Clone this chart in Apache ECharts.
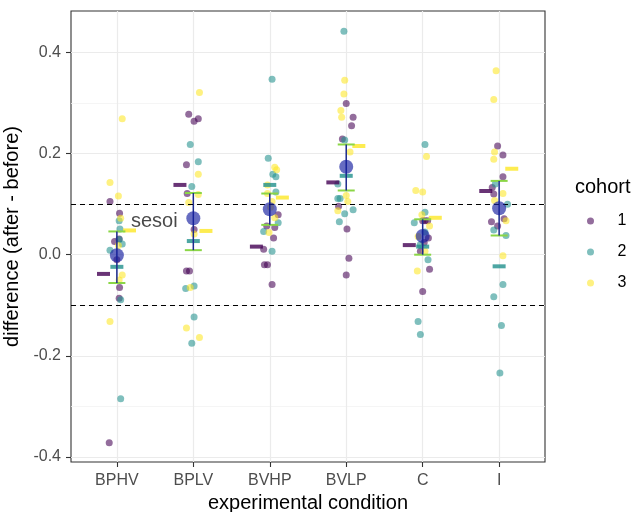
<!DOCTYPE html>
<html>
<head>
<meta charset="utf-8">
<script src="https://cdn.jsdelivr.net/npm/echarts@6/dist/echarts.min.js"></script>
<style>html,body{margin:0;padding:0;background:#fff}#chart{width:633px;height:512px}</style>
</head>
<body>
<div id="chart"></div>
<script>
const categories = ['BPHV', 'BPLV', 'BVHP', 'BVLP', 'C', 'I'];
const cohortNames = ['1', '2', '3'];
const yTicks = [-0.4, -0.2, 0.0, 0.2, 0.4];
const sesoi = 0.1;
const sesoiLabel = { x: 0.49, y: 0.065, text: 'sesoi' };

// [category index, jitter (category units), difference]
const cohort1Points = [
  [0,-0.09,0.105],[0,0.035,0.082],[0,0.03,0.031],[0,-0.03,0.026],[0,0,-0.010],[0,0.035,-0.065],[0,0.03,-0.086],[0,-0.1,-0.372],
  [1,-0.06,0.278],[1,0.01,0.264],[1,0.065,0.269],[1,-0.09,0.178],[1,-0.08,0.121],[1,0.01,0.050],[1,-0.09,-0.032],[1,-0.05,-0.032],
  [2,0.11,0.079],[2,-0.04,0.057],[2,0.065,0.054],[2,0.05,0.033],[2,-0.08,0.011],[2,-0.07,-0.020],[2,-0.03,-0.020],[2,0.03,-0.059],
  [3,0,0.299],[3,0.09,0.272],[3,0.07,0.255],[3,-0.05,0.229],[3,-0.1,0.096],[3,0.01,0.051],[3,0.035,-0.007],[3,0,-0.040],
  [4,0,0.067],[4,0.065,0.067],[4,0.03,0.067],[4,0.075,0.033],[4,0.02,0.024],[4,-0.03,0.007],[4,0.09,-0.029],[4,0,-0.073],
  [5,-0.02,0.215],[5,0.05,0.197],[5,0.05,0.154],[5,-0.09,0.133],[5,-0.07,0.120],[5,-0.1,0.065],[5,0.065,0.071],[5,-0.02,0.057]
];
const cohort2Points = [
  [0,0.03,0.067],[0,0.04,0.051],[0,0.07,0.021],[0,0.03,0.03],[0,-0.09,0.009],[0,0.05,-0.089],[0,0.05,-0.285],
  [1,-0.04,0.218],[1,0.065,0.184],[1,-0.02,0.135],[1,0.01,-0.062],[1,-0.1,-0.067],[1,0.01,-0.123],[1,-0.02,-0.175],
  [2,0.03,0.347],[2,-0.02,0.191],[2,0.04,0.159],[2,0.08,0.154],[2,0.08,0.124],[2,0.11,0.063],[2,-0.08,0.046],[2,0.03,0.007],
  [3,-0.03,0.442],[3,-0.02,0.227],[3,-0.11,0.140],[3,-0.11,0.111],[3,-0.08,0.111],[3,0.09,0.089],[3,-0.02,0.081],[3,-0.09,0.065],
  [4,0.03,0.218],[4,0.03,0.084],[4,-0.11,0.063],[4,0.03,0.045],[4,-0.03,0.020],[4,0.07,-0.010],[4,-0.06,-0.132],[4,-0.03,-0.158],
  [5,-0.05,0.140],[5,0.11,0.100],[5,-0.07,0.049],[5,0.09,0.038],[5,0.05,-0.059],[5,-0.07,-0.083],[5,0.03,-0.140],[5,0.01,-0.234]
];
const cohort3Points = [
  [0,0.07,0.269],[0,-0.09,0.143],[0,0.02,0.116],[0,0.05,0.072],[0,0.02,0.018],[0,0.07,-0.040],[0,0.03,-0.050],[0,-0.09,-0.132],
  [1,0.08,0.321],[1,0.065,0.159],[1,0.065,0.119],[1,-0.06,0.103],[1,0.01,0.041],[1,-0.04,-0.065],[1,-0.09,-0.145],[1,0.08,-0.164],
  [2,0.065,0.173],[2,0.09,0.168],[2,-0.03,0.138],[2,-0.03,0.121],[2,0.03,0.105],[2,0.01,0.094],[2,0.065,0.073],[2,-0.01,0.044],
  [3,-0.02,0.345],[3,-0.03,0.318],[3,-0.07,0.285],[3,-0.06,0.272],[3,0.05,0.203],[3,0,0.117],[3,0.02,0.105],[3,-0.11,0.087],
  [4,0.05,0.194],[4,-0.09,0.127],[4,0,0.124],[4,-0.01,0.079],[4,0.09,0.057],[4,-0.06,0.036],[4,0.03,0.007],[4,-0.07,-0.032],
  [5,-0.04,0.364],[5,-0.07,0.307],[5,-0.06,0.203],[5,-0.07,0.189],[5,0.05,0.121],[5,-0.06,0.107],[5,0.09,0.067],[5,0.05,-0.002]
];

// per-category summaries
const cohort1Mean = [-0.038, 0.138, 0.016, 0.143, 0.019, 0.126];
const cohort2Mean = [-0.024, 0.027, 0.138, 0.156, 0.016, -0.023];
const cohort3Mean = [0.048, 0.047, 0.113, 0.215, 0.073, 0.170];
const overallMean = [-0.001, 0.072, 0.090, 0.174, 0.037, 0.092];
const ciLow = [-0.056, 0.009, 0.059, 0.127, 0.000, 0.038];
const ciHigh = [0.046, 0.122, 0.121, 0.218, 0.070, 0.146];

// styles
const FONT = 'Liberation Sans, Arial, sans-serif';
const pointColors = ['rgba(68,1,84,0.72)', 'rgba(33,144,140,0.72)', 'rgba(253,231,37,0.72)'];
const dashColors = ['#440154', '#21908C', '#FDE725'];
const dashOffsets = [-0.175, 0, 0.165];

const allPoints = [cohort1Points, cohort2Points, cohort3Points];
const cohortMeans = [cohort1Mean, cohort2Mean, cohort3Mean];

const series = [];
allPoints.forEach((pts, k) => {
  series.push({
    name: cohortNames[k], type: 'scatter', z: 2,
    symbol: 'circle', symbolSize: 7,
    itemStyle: { color: pointColors[k] },
    data: pts.map(p => [p[0] + p[1], p[2]])
  });
});
cohortMeans.forEach((m, k) => {
  series.push({
    name: 'mean' + cohortNames[k], type: 'scatter', z: 3,
    symbol: 'rect', symbolSize: [13, 4],
    itemStyle: { color: dashColors[k] },
    data: m.map((v, i) => [i + dashOffsets[k], v])
  });
});
series.push({
  name: 'ci', type: 'custom', z: 4,
  data: categories.map((c, i) => [i, ciLow[i], ciHigh[i]]),
  renderItem: function (params, api) {
    const x = api.value(0);
    const lo = api.coord([x, api.value(1)]);
    const hi = api.coord([x, api.value(2)]);
    const hw = 8.5;
    return {
      type: 'group',
      children: [
        { type: 'line', shape: { x1: lo[0] - hw, y1: lo[1], x2: lo[0] + hw, y2: lo[1] }, style: { stroke: '#8BD646', lineWidth: 2 } },
        { type: 'line', shape: { x1: hi[0] - hw, y1: hi[1], x2: hi[0] + hw, y2: hi[1] }, style: { stroke: '#8BD646', lineWidth: 2 } },
        { type: 'line', shape: { x1: lo[0], y1: lo[1], x2: hi[0], y2: hi[1] }, style: { stroke: '#1C2A8C', lineWidth: 1.5 } }
      ]
    };
  }
});
series.push({
  name: 'overall', type: 'scatter', z: 5,
  symbol: 'circle', symbolSize: 14,
  itemStyle: { color: 'rgba(22,30,160,0.82)' },
  data: overallMean.map((v, i) => [i, v]),
  markLine: {
    silent: true, symbol: 'none', label: { show: false },
    lineStyle: { color: '#000', type: [5, 4], width: 1.2 },
    data: [{ yAxis: sesoi }, { yAxis: -sesoi }]
  }
});
series.push({
  name: 'sesoiText', type: 'scatter', z: 6, silent: true,
  symbolSize: 0,
  data: [[sesoiLabel.x, sesoiLabel.y]],
  label: { show: true, position: 'inside', formatter: sesoiLabel.text, fontSize: 20, fontFamily: FONT, color: '#1a1a1a' }
});

const chart = echarts.init(document.getElementById('chart'), null, { renderer: 'canvas' });
chart.setOption({
  animation: false,
  backgroundColor: '#fff',
  textStyle: { fontFamily: FONT },
  grid: { left: 71, right: 88, top: 11, bottom: 50, show: true, containLabel: false, outerBoundsMode: 'none', borderColor: '#333', borderWidth: 1.1, backgroundColor: 'transparent' },
  title: { text: 'cohort', left: 570, top: 172, textStyle: { fontSize: 20, fontWeight: 'normal', color: '#000', fontFamily: FONT } },
  legend: {
    data: cohortNames, orient: 'vertical', left: 582, top: 208,
    itemWidth: 10, itemHeight: 7, itemGap: 15,
    textStyle: { fontSize: 16, color: '#000', fontFamily: FONT, padding: [0, 0, 0, 17] }
  },
  xAxis: {
    type: 'value', min: -0.6, max: 5.6,
    axisLine: { show: false, onZero: false },
    axisTick: { show: true, length: 5, customValues: categories.map((c, i) => i), lineStyle: { color: '#333', width: 1.1 } },
    axisLabel: { customValues: categories.map((c, i) => i), formatter: v => categories[Math.round(v)], fontSize: 16, color: '#4D4D4D', margin: 11, fontFamily: FONT },
    splitLine: { show: true, lineStyle: { color: '#EBEBEB', width: 1.2 } },
    name: 'experimental condition', nameLocation: 'middle', nameGap: 30,
    nameTextStyle: { fontSize: 20, color: '#000', fontFamily: FONT }
  },
  yAxis: {
    type: 'value', min: -0.41, max: 0.482,
    axisLine: { show: false, onZero: false },
    axisTick: { show: true, length: 5, customValues: yTicks, lineStyle: { color: '#333', width: 1.1 } },
    axisLabel: { customValues: yTicks, formatter: v => v.toFixed(1), fontSize: 16, color: '#4D4D4D', margin: 10, fontFamily: FONT },
    splitLine: { show: true, lineStyle: { color: '#EBEBEB', width: 1.2 } },
    minorTick: { show: false, splitNumber: 2 },
    minorSplitLine: { show: true, lineStyle: { color: '#F3F3F3', width: 0.8 } },
    name: 'difference (after - before)', nameLocation: 'middle', nameGap: 40, nameRotate: 90,
    nameTextStyle: { fontSize: 20, color: '#000', fontFamily: FONT }
  },
  series: series
});
</script>
</body>
</html>
